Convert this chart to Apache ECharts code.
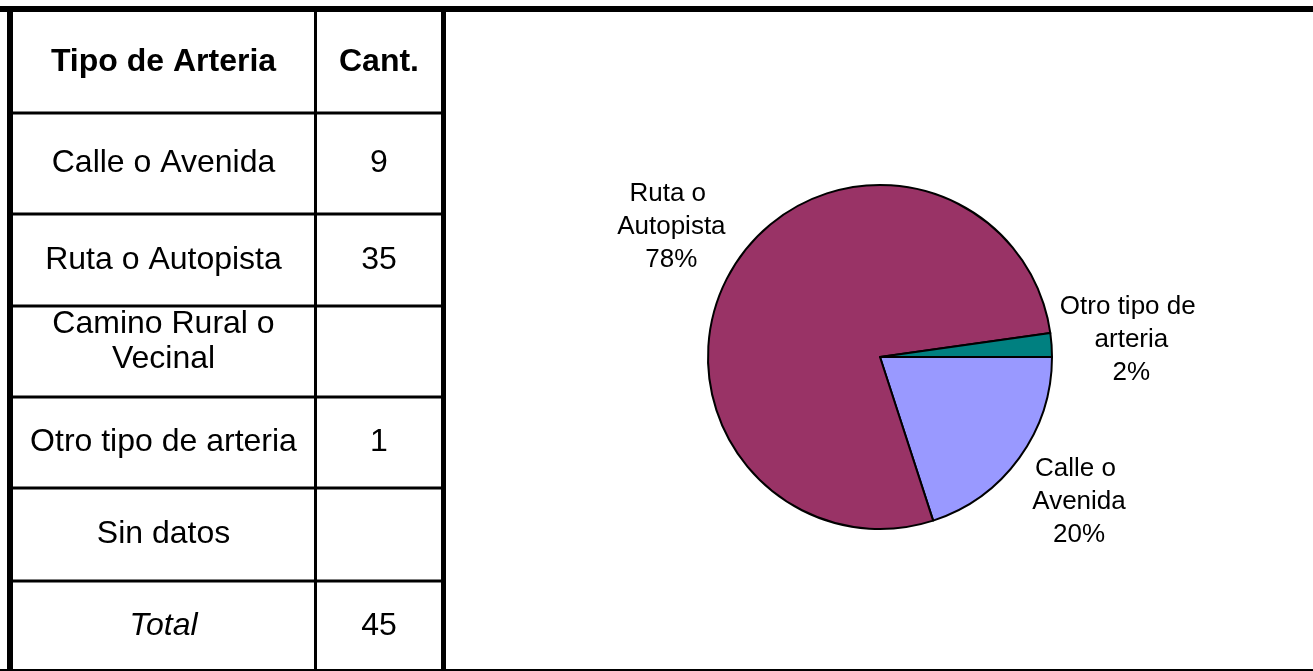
<!DOCTYPE html>
<html>
<head>
<meta charset="utf-8">
<script src="https://cdn.jsdelivr.net/npm/echarts@6/dist/echarts.min.js"></script>
<style>
  html, body { margin: 0; padding: 0; background: #fff; }
  #chart { width: 1313px; height: 671px; }
</style>
</head>
<body>
<div id="chart"></div>
<script>
// ---- data ----
const headers = ['Tipo de Arteria', 'Cant.'];
const categories = ['Calle o Avenida', 'Ruta o Autopista', 'Camino Rural o Vecinal', 'Otro tipo de arteria', 'Sin datos'];
const tableNames = ['Calle o Avenida', 'Ruta o Autopista', 'Camino Rural o\nVecinal', 'Otro tipo de arteria', 'Sin datos'];
const counts = [9, 35, null, 1, null];
const totalLabel = 'Total';
const totalValue = 45;
const sliceColors = ['#9999FF', '#993366', '#FFFFCC', '#008080', '#CCFFFF'];

// ---- layout (positions only) ----
const W = 1313, H = 671;
const rowEdges = [12, 113, 214, 306, 397, 488, 581, 671];
const col1Center = 163.5, col2Center = 379;
const FAMILY = '"Liberation Sans", Arial, sans-serif';

const g = [];
// outer frame
g.push({ type: 'rect', shape: { x: 0, y: 6, width: W, height: 6 }, style: { fill: '#000' }, silent: true });
g.push({ type: 'rect', shape: { x: 7, y: 6, width: 6, height: H - 6 }, style: { fill: '#000' }, silent: true });
g.push({ type: 'rect', shape: { x: 441, y: 6, width: 5, height: H - 6 }, style: { fill: '#000' }, silent: true });
g.push({ type: 'rect', shape: { x: 0, y: 669, width: W, height: 2 }, style: { fill: '#000' }, silent: true });
// column divider
g.push({ type: 'rect', shape: { x: 314, y: 12, width: 3, height: H - 12 }, style: { fill: '#000' }, silent: true });
// row lines
for (let i = 1; i < rowEdges.length - 1; i++) {
  g.push({ type: 'rect', shape: { x: 13, y: rowEdges[i] - 1.5, width: 428, height: 3 }, style: { fill: '#000' }, silent: true });
}
function cellText(txt, cx, cy, opts) {
  g.push({
    type: 'text', x: cx, y: cy, silent: true,
    style: Object.assign({
      text: txt, fill: '#000',
      fontFamily: FAMILY, fontSize: 32, fontWeight: 'normal', fontStyle: 'normal',
      align: 'center', verticalAlign: 'middle', lineHeight: 35
    }, opts || {})
  });
}
// header
const hy = (rowEdges[0] + rowEdges[1]) / 2;
cellText(headers[0], col1Center, hy, { fontWeight: 'bold' });
cellText(headers[1], col2Center, hy, { fontWeight: 'bold' });
// body rows
tableNames.forEach((c, i) => {
  const cy = (rowEdges[i + 1] + rowEdges[i + 2]) / 2;
  const wraps = c.indexOf('\n') >= 0;
  cellText(c, col1Center, wraps ? cy - 10 : cy);
  if (counts[i] != null) cellText(String(counts[i]), col2Center, cy);
});
// total row
const ty = (rowEdges[6] + rowEdges[7]) / 2;
cellText(totalLabel, col1Center, ty, { fontStyle: 'italic' });
cellText(String(totalValue), col2Center, ty);

// pie data from arrays
const labelLineLen = [74, 74, 74, 80, 74];
const pieData = [];
categories.forEach((c, i) => {
  if (counts[i] != null) pieData.push({
    name: c, value: counts[i],
    itemStyle: { color: sliceColors[i] },
    labelLine: { show: false, length: labelLineLen[i], length2: 0 }
  });
});

const chart = echarts.init(document.getElementById('chart'), null, { renderer: 'canvas' });
chart.setOption({
  backgroundColor: '#fff',
  animation: false,
  graphic: g,
  series: [{
    type: 'pie',
    center: [880, 357],
    radius: 172,
    startAngle: 0,
    clockwise: true,
    avoidLabelOverlap: false,
    percentPrecision: 0,
    data: pieData,
    itemStyle: { borderColor: '#000', borderWidth: 2 },
    emphasis: { disabled: true },
    label: {
      show: true,
      position: 'outside',
      formatter: '{b}\n{d}%',
      color: '#000',
      fontFamily: FAMILY,
      fontSize: 26,
      lineHeight: 33,
      width: 160,
      overflow: 'break',
      align: 'center',
      distanceToLabelLine: 0
    },
    labelLine: { show: false, length: 74, length2: 0 },
    labelLayout: { align: 'center', verticalAlign: 'middle' }
  }]
});
</script>
</body>
</html>
